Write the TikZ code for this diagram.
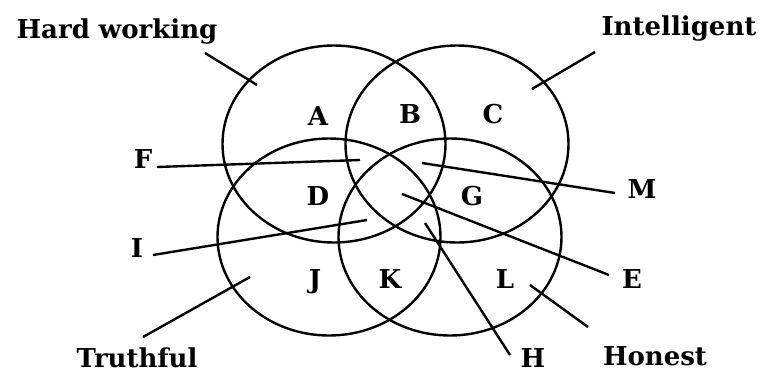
\documentclass[tikz,border=0pt]{standalone}
\usepackage{fontspec}
\setmainfont{DejaVu Serif}
\usetikzlibrary{shapes.geometric}
\begin{document}
\begin{tikzpicture}[x=1pt,y=-1pt,
  setbox/.style={draw, ellipse, minimum width=223pt, minimum height=197pt, inner sep=0pt, line width=2.4pt},
  txt/.style={anchor=base, inner sep=0pt, font=\fontsize{26}{28}\selectfont\bfseries},
  lead/.style={line width=2.4pt}]
\useasboundingbox (0,0) rectangle (761,373);
% sets
\node[setbox] (hw) at (334,144) {};
\node[setbox] (in) at (457,144) {};
\node[setbox] (tr) at (329,237) {};
\node[setbox] (ho) at (450,237) {};
% region letters
\node[txt] (A) at (318,125) {A};
\node[txt] (B) at (410,123) {B};
\node[txt] (C) at (493,123) {C};
\node[txt] (D) at (318,205) {D};
\node[txt] (G) at (472,205) {G};
\node[txt] (J) at (315,288) {J};
\node[txt] (K) at (390,288) {K};
\node[txt] (L) at (505,288) {L};
% outside labels
\node[txt] (lhw) at (117,38) {Hard working};
\node[txt] (lin) at (679,35) {Intelligent};
\node[txt] (lF) at (143,168) {F};
\node[txt] (lI) at (137,257) {I};
\node[txt] (lM) at (642,198) {M};
\node[txt] (lE) at (632,288) {E};
\node[txt] (lH) at (533,367) {H};
\node[txt] (lho) at (655,365) {Honest};
\node[txt] (ltr) at (137,367) {Truthful};
% leader end points
\coordinate (hw1) at (205,53);  \coordinate (hw2) at (257,85);
\coordinate (in1) at (595,52);  \coordinate (in2) at (532,89);
\coordinate (F1) at (157,167);  \coordinate (F2) at (360,160);
\coordinate (I1) at (153,255);  \coordinate (I2) at (367,220);
\coordinate (M1) at (615,193);  \coordinate (M2) at (422,163);
\coordinate (E1) at (609,275);  \coordinate (E2) at (402,194);
\coordinate (H1) at (510,355);  \coordinate (H2) at (425,223);
\coordinate (ho1) at (588,327); \coordinate (ho2) at (530,285);
\coordinate (tr1) at (143,337); \coordinate (tr2) at (250,277);
\draw[lead] (hw1) -- (hw2);
\draw[lead] (in1) -- (in2);
\draw[lead] (F1) -- (F2);
\draw[lead] (I1) -- (I2);
\draw[lead] (M1) -- (M2);
\draw[lead] (E1) -- (E2);
\draw[lead] (H1) -- (H2);
\draw[lead] (ho1) -- (ho2);
\draw[lead] (tr1) -- (tr2);
\end{tikzpicture}
\end{document}
